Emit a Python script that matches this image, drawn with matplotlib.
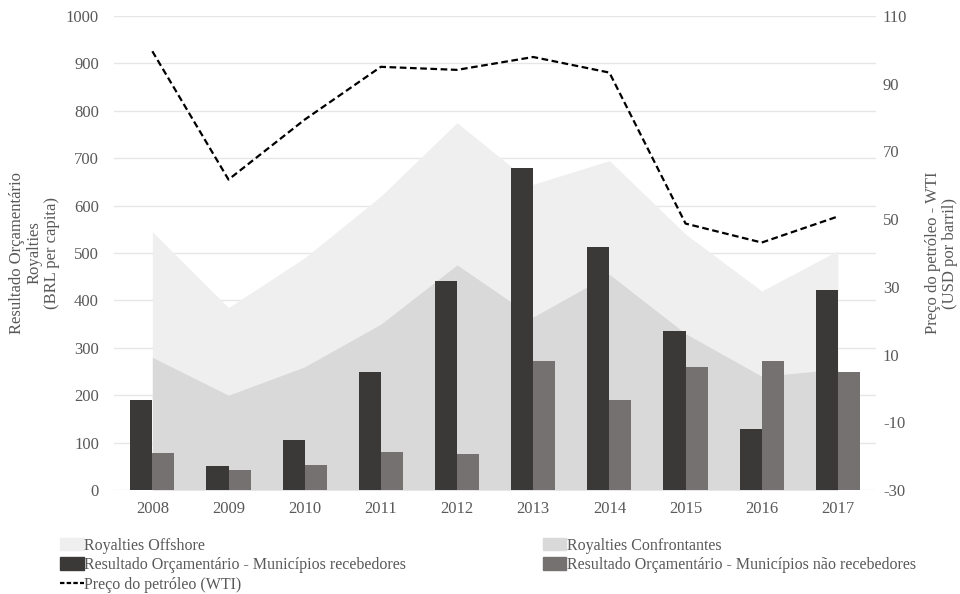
import matplotlib
matplotlib.use('Agg')
import numpy as np
from matplotlib import pyplot as plt
from matplotlib.patches import Patch
from matplotlib.lines import Line2D

plt.rcParams['font.family'] = ['Liberation Serif', 'DejaVu Serif']
plt.rcParams['axes.unicode_minus'] = False

anos = ['2008', '2009', '2010', '2011', '2012', '2013', '2014', '2015', '2016', '2017']
royalties_offshore = [545, 385, 490, 620, 775, 645, 695, 540, 420, 505]
royalties_confrontantes = [280, 200, 260, 350, 475, 365, 455, 330, 240, 255]
resultado_recebedores = [190, 50, 105, 248, 442, 680, 513, 335, 128, 423]
resultado_nao_recebedores = [78, 42, 53, 80, 75, 273, 190, 260, 273, 250]
preco_wti = [99.6, 61.7, 79.4, 95.0, 94.1, 97.9, 93.3, 48.7, 43.1, 50.8]

txt = '#595959'
c_off = '#efefef'
c_conf = '#d9d9d9'
c_rec = '#3b3838'
c_nrec = '#767171'

fig = plt.figure(figsize=(9.6, 5.94), dpi=100)
ax = fig.add_axes([0.119, 0.175, 0.7935, 0.798])
x = np.arange(len(anos))
w = 0.29

ax.fill_between(x, royalties_offshore, color=c_off, lw=0, zorder=1)
ax.fill_between(x, royalties_confrontantes, color=c_conf, lw=0, zorder=2)
ax.bar(x - w / 2, resultado_recebedores, w, color=c_rec, zorder=3)
ax.bar(x + w / 2, resultado_nao_recebedores, w, color=c_nrec, zorder=3)

ax.set_xlim(-0.5, len(anos) - 0.5)
ax.set_ylim(0, 1000)
ax.set_yticks(range(0, 1001, 100))
ax.set_xticks(x)
ax.set_xticklabels(anos)
ax.grid(axis='y', color='#e6e6e6', lw=1, zorder=0)
ax.set_axisbelow(True)
for s in ax.spines.values():
    s.set_visible(False)
ax.tick_params(length=0, labelsize=12, colors=txt, pad=8)
ax.tick_params(axis='y', pad=11)

ax2 = ax.twinx()
ax2.plot(x, preco_wti, color='black', ls=(0, (3, 1.6)), lw=1.6, zorder=4)
ax2.set_ylim(-30, 110)
ax2.set_yticks(range(-30, 111, 20))
for s in ax2.spines.values():
    s.set_visible(False)
ax2.tick_params(length=0, labelsize=12, colors=txt, pad=5)

fig.text(0.036, 0.574, 'Resultado Orçamentário\nRoyalties\n(BRL per capita)', rotation=90,
         ha='center', va='center', ma='center', fontsize=12, color=txt, linespacing=1.1)
fig.text(0.981, 0.574, 'Preço do petróleo - WTI\n(USD por barril)', rotation=90,
         ha='center', va='center', ma='center', fontsize=12, color=txt, linespacing=1.1)

handles = [
    Patch(color=c_off, label='Royalties Offshore'),
    Patch(color=c_rec, label='Resultado Orçamentário - Municípios recebedores'),
    Line2D([], [], color='black', ls=(0, (2, 1)), lw=1.6, label='Preço do petróleo (WTI)'),
    Patch(color=c_conf, label='Royalties Confrontantes'),
    Patch(color=c_nrec, label='Resultado Orçamentário - Municípios não recebedores'),
]
leg = fig.legend(handles=handles, loc='upper left', bbox_to_anchor=(0.063, 0.095), ncol=2,
                 frameon=False, fontsize=11.5, handlelength=1.45, handleheight=0.8, handletextpad=0.05,
                 labelspacing=0.22, columnspacing=8.55, borderaxespad=0, borderpad=0)
for t in leg.get_texts():
    t.set_color(txt)

fig.savefig('out.png', dpi=100)
